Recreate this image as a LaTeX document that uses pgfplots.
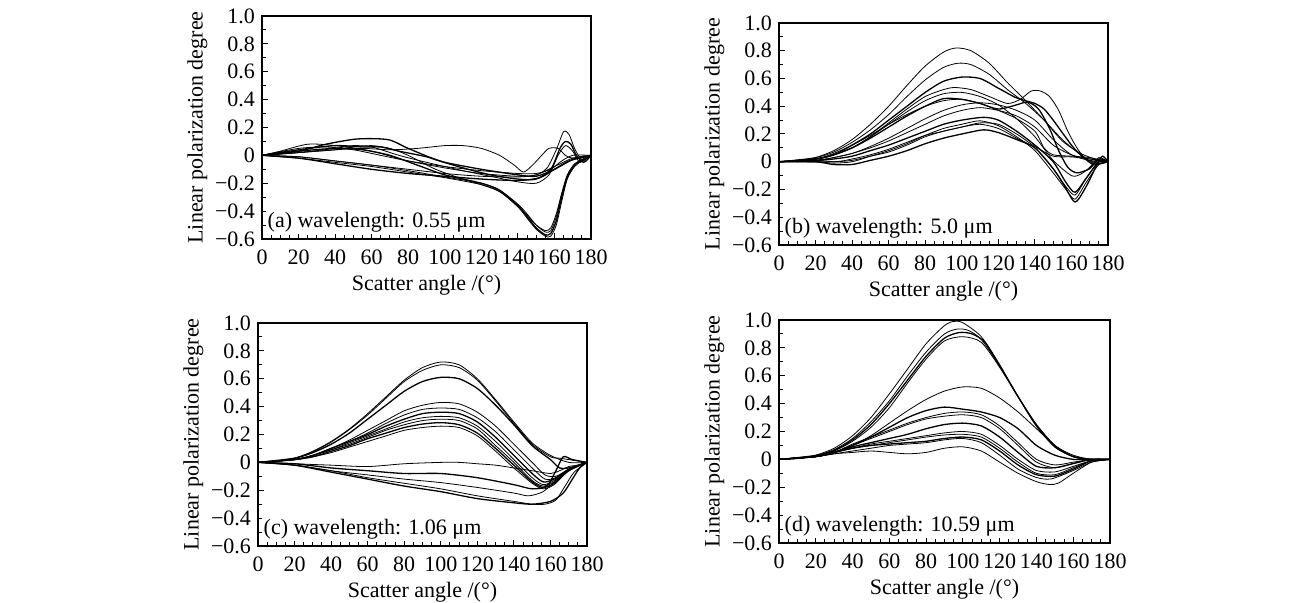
\documentclass[border=0pt]{standalone}
\usepackage{fontspec}
\setmainfont{Liberation Serif}
\usepackage{pgfplots}
\pgfplotsset{compat=1.18}
\newcommand{\fs}{\fontsize{11pt}{12.5pt}\selectfont}
\tikzset{tag/.style={font=\fs, anchor=west, fill=white, inner sep=1pt}}
\pgfplotsset{
  panel/.style={
    scale only axis, width=164.5pt, height=111.5pt,
    xmin=0, xmax=180, ymin=-0.6, ymax=1.0,
    xtick={0,20,...,180},
    ytick={-0.6,-0.4,-0.2,0,0.2,0.4,0.6,0.8,1.0},
    yticklabels={−0.6,−0.4,−0.2,0,0.2,0.4,0.6,0.8,1.0},
    minor x tick num=3, minor y tick num=1,
    tick pos=left, tick align=inside,
    major tick length=3pt, minor tick length=1.8pt,
    tick style={black, line width=0.5pt},
    axis line style={line width=0.7pt},
    /pgf/number format/assume math mode=true,
    tick label style={font=\fs},
    xticklabel style={yshift=-2pt},
    label style={font=\fs},
    xlabel={Scatter angle /(°)},
    ylabel={Linear polarization degree},
    xlabel style={yshift=1.5pt},
    ylabel style={yshift=-3pt},
    cycle list={{black, solid, line width=0.65pt}},
    every axis plot/.append style={no marks, smooth, tension=0.45},
    clip=true,
  },
}
\begin{document}
\begin{tikzpicture}
\useasboundingbox (0,0) rectangle (647pt,-301.5pt);
% ---------------- (a)
\begin{axis}[panel, at={(131pt,-8pt)}, anchor=north west]
\addplot coordinates {(0,0)(20,-0.02)(40,-0.05)(60,-0.08)(80,-0.12)(100,-0.16)(120,-0.21)(130,-0.26)(140,-0.36)(145,-0.43)(150,-0.50)(155,-0.54)(158,-0.52)(161,-0.42)(164,-0.27)(167,-0.14)(171,-0.06)(175,-0.03)(180,0)};
\addplot coordinates {(0,0)(20,-0.01)(40,-0.04)(60,-0.07)(80,-0.11)(100,-0.155)(120,-0.2)(130,-0.25)(140,-0.35)(145,-0.42)(150,-0.5)(155,-0.55)(158,-0.54)(161,-0.44)(164,-0.28)(167,-0.15)(171,-0.07)(175,-0.03)(180,0)};
\addplot coordinates {(0,0)(20,0.03)(40,0.05)(55,0.04)(70,0.0)(85,-0.07)(100,-0.14)(120,-0.2)(130,-0.25)(140,-0.36)(145,-0.44)(150,-0.52)(155,-0.57)(158,-0.56)(161,-0.47)(164,-0.3)(167,-0.16)(171,-0.07)(175,-0.04)(180,0)};
\addplot coordinates {(0,0)(20,0.02)(40,0.04)(50,0.06)(60,0.07)(70,0.05)(80,0.0)(95,-0.1)(110,-0.17)(120,-0.21)(130,-0.26)(140,-0.37)(145,-0.45)(150,-0.53)(155,-0.58)(158,-0.58)(161,-0.5)(164,-0.33)(167,-0.17)(171,-0.08)(175,-0.04)(180,0)};
\addplot coordinates {(0,0)(10,0.03)(25,0.08)(40,0.07)(60,0.03)(80,-0.04)(100,-0.09)(120,-0.13)(140,-0.15)(150,-0.14)(156,-0.09)(161,0.04)(165,0.17)(168,0.15)(171,0.05)(175,-0.03)(180,0)};
\addplot coordinates {(0,0)(20,0.03)(35,0.08)(50,0.115)(60,0.12)(70,0.11)(80,0.05)(95,-0.03)(110,-0.09)(125,-0.14)(140,-0.17)(150,-0.17)(158,-0.1)(163,0.05)(166,0.1)(169,0.08)(172,0.0)(176,-0.05)(180,0)};
\addplot coordinates {(0,0)(20,0.02)(40,0.05)(50,0.07)(60,0.06)(75,0.0)(90,-0.05)(110,-0.11)(125,-0.15)(140,-0.19)(150,-0.2)(157,-0.14)(162,0.0)(166,0.07)(170,0.03)(174,-0.05)(180,0)};
\addplot coordinates {(0,0)(20,-0.01)(40,-0.04)(60,-0.07)(80,-0.1)(100,-0.13)(120,-0.15)(140,-0.155)(150,-0.14)(160,-0.08)(170,-0.02)(180,0)};
\addplot coordinates {(0,0)(20,-0.02)(40,-0.06)(60,-0.1)(80,-0.13)(100,-0.15)(120,-0.17)(140,-0.18)(152,-0.16)(160,-0.1)(168,-0.04)(180,0)};
\addplot coordinates {(0,0)(20,0.02)(40,0.04)(55,0.05)(70,0.04)(85,0.05)(100,0.07)(110,0.07)(120,0.05)(130,0.0)(138,-0.07)(143,-0.12)(148,-0.07)(153,0.0)(157,0.05)(162,0.05)(166,0.0)(170,-0.02)(180,0)};
\addplot coordinates {(0,0)(20,0.05)(35,0.06)(50,0.04)(65,0.0)(80,-0.04)(100,-0.08)(120,-0.11)(140,-0.13)(150,-0.13)(158,-0.1)(164,-0.04)(170,0.0)(180,0)};
\addplot coordinates {(0,0)(20,0.04)(40,0.07)(55,0.06)(65,0.06)(75,0.03)(90,-0.01)(100,-0.05)(120,-0.1)(140,-0.14)(150,-0.15)(160,-0.1)(170,-0.03)(180,0)};
\node[tag] at (rel axis cs:0.01,0.075) {(a) wavelength: 0.55 μm};
\end{axis}
% ---------------- (b)
\begin{axis}[panel, at={(389.5pt,-11.5pt)}, anchor=north west, width=164.5pt, height=111pt, ylabel style={yshift=0pt}]
\addplot coordinates {(0,0)(10,0.005)(20,0.03)(30,0.08)(40,0.16)(50,0.27)(60,0.40)(70,0.55)(80,0.69)(90,0.79)(97,0.82)(105,0.80)(115,0.71)(125,0.57)(135,0.44)(145,0.30)(155,0.15)(165,0.06)(175,0.01)(180,0)};
\addplot coordinates {(0,0)(20,0.03)(30,0.07)(40,0.14)(50,0.23)(60,0.34)(70,0.47)(80,0.59)(90,0.68)(98,0.71)(105,0.70)(115,0.63)(125,0.52)(135,0.42)(145,0.30)(155,0.16)(165,0.05)(172,-0.01)(180,0)};
\addplot coordinates {(0,0)(20,0.02)(30,0.05)(40,0.12)(50,0.2)(60,0.3)(70,0.4)(80,0.5)(90,0.58)(100,0.61)(110,0.6)(120,0.53)(130,0.46)(140,0.42)(145,0.38)(150,0.3)(160,0.12)(165,0.05)(172,-0.02)(180,0)};
\addplot coordinates {(0,0)(20,0.02)(30,0.05)(40,0.1)(50,0.18)(60,0.28)(70,0.38)(80,0.47)(90,0.52)(96,0.535)(105,0.52)(115,0.47)(125,0.42)(132,0.45)(138,0.51)(143,0.51)(148,0.47)(153,0.37)(158,0.22)(163,0.1)(168,0.02)(175,-0.01)(180,0)};
\addplot coordinates {(0,0)(20,0.02)(30,0.05)(40,0.1)(50,0.18)(60,0.27)(70,0.36)(80,0.44)(90,0.49)(100,0.5)(110,0.47)(120,0.41)(130,0.31)(140,0.18)(150,0.01)(160,-0.1)(165,-0.09)(170,-0.04)(175,0.03)(180,0)};
\addplot coordinates {(0,0)(20,0.02)(30,0.05)(40,0.1)(50,0.17)(60,0.25)(70,0.33)(80,0.4)(90,0.455)(100,0.45)(110,0.42)(120,0.38)(130,0.41)(136,0.43)(142,0.38)(148,0.24)(153,0.08)(158,-0.04)(163,-0.08)(170,-0.05)(175,0.02)(180,0)};
\addplot coordinates {(0,0)(20,0.01)(30,0.03)(40,0.06)(50,0.11)(60,0.17)(70,0.24)(80,0.31)(90,0.37)(100,0.41)(110,0.425)(120,0.41)(130,0.37)(140,0.3)(150,0.16)(160,0.05)(170,0.01)(180,0)};
\addplot coordinates {(0,0)(20,0.01)(30,0.03)(40,0.06)(50,0.1)(60,0.15)(70,0.21)(80,0.27)(90,0.33)(100,0.37)(110,0.39)(120,0.37)(130,0.33)(140,0.25)(150,0.12)(160,0.05)(170,0.02)(180,0)};
\addplot coordinates {(0,0)(20,0.01)(30,0.02)(40,0.04)(50,0.08)(60,0.12)(70,0.17)(80,0.22)(90,0.27)(100,0.3)(112,0.32)(120,0.3)(130,0.22)(140,0.12)(150,0.0)(157,-0.15)(162,-0.22)(168,-0.12)(175,0.0)(180,0)};
\addplot coordinates {(0,0)(20,0.0)(30,-0.01)(40,0.0)(50,0.04)(60,0.08)(70,0.13)(80,0.19)(90,0.24)(100,0.27)(110,0.295)(120,0.26)(130,0.18)(140,0.08)(150,-0.08)(157,-0.2)(162,-0.27)(168,-0.15)(175,-0.02)(180,0)};
\addplot coordinates {(0,0)(20,0.01)(30,0.0)(40,0.01)(50,0.04)(60,0.07)(70,0.12)(80,0.18)(90,0.22)(100,0.25)(110,0.27)(120,0.24)(130,0.17)(140,0.1)(150,-0.05)(157,-0.18)(162,-0.24)(168,-0.12)(175,0.0)(180,0)};
\addplot coordinates {(0,0)(20,0.0)(30,-0.02)(40,-0.02)(50,0.01)(60,0.04)(70,0.08)(80,0.13)(90,0.17)(100,0.2)(112,0.23)(120,0.21)(130,0.16)(140,0.1)(150,-0.05)(156,-0.17)(162,-0.29)(168,-0.18)(174,-0.02)(177,0.04)(180,0)};
\addplot coordinates {(0,0)(30,0.0)(40,0.02)(50,0.05)(60,0.09)(70,0.14)(80,0.19)(90,0.22)(100,0.25)(110,0.28)(120,0.27)(130,0.2)(140,0.11)(150,0.04)(160,0.035)(170,0.02)(180,0)};
\addplot coordinates {(0,0)(20,0.02)(30,0.06)(40,0.12)(50,0.19)(60,0.27)(70,0.34)(80,0.4)(90,0.44)(100,0.45)(110,0.42)(120,0.37)(130,0.31)(140,0.22)(145,0.1)(150,0.05)(160,0.04)(170,0.03)(180,0)};
\node[tag] at (rel axis cs:0.01,0.075) {(b) wavelength: 5.0 μm};
\end{axis}
% ---------------- (c)
\begin{axis}[panel, at={(129pt,-161.5pt)}, anchor=north west]
\addplot coordinates {(0,0)(10,0.01)(20,0.03)(30,0.08)(40,0.15)(50,0.24)(60,0.35)(70,0.47)(80,0.59)(90,0.68)(100,0.72)(110,0.70)(120,0.60)(130,0.45)(140,0.29)(150,0.14)(160,0.05)(170,0.0)(180,0)};
\addplot coordinates {(0,0)(10,0.01)(20,0.03)(30,0.075)(40,0.145)(50,0.235)(60,0.34)(70,0.46)(80,0.58)(90,0.66)(100,0.70)(110,0.68)(120,0.59)(130,0.44)(140,0.28)(150,0.13)(160,0.04)(165,0.03)(170,0.02)(180,0)};
\addplot coordinates {(0,0)(20,0.03)(30,0.07)(40,0.13)(50,0.21)(60,0.31)(70,0.41)(80,0.51)(90,0.58)(100,0.61)(110,0.6)(120,0.53)(130,0.41)(140,0.27)(150,0.12)(160,0.02)(165,-0.04)(170,-0.04)(180,0)};
\addplot coordinates {(0,0)(20,0.02)(30,0.05)(40,0.1)(50,0.16)(60,0.23)(70,0.3)(80,0.37)(90,0.41)(100,0.43)(110,0.42)(120,0.36)(130,0.26)(140,0.13)(150,0.0)(157,-0.09)(163,-0.1)(170,-0.05)(180,0)};
\addplot coordinates {(0,0)(20,0.02)(30,0.05)(40,0.1)(50,0.15)(60,0.21)(70,0.28)(80,0.34)(90,0.38)(100,0.39)(110,0.38)(120,0.32)(130,0.22)(140,0.09)(150,-0.04)(157,-0.12)(163,-0.11)(170,-0.05)(180,0)};
\addplot coordinates {(0,0)(20,0.02)(30,0.05)(40,0.1)(50,0.15)(60,0.2)(70,0.26)(80,0.31)(90,0.35)(100,0.36)(110,0.35)(120,0.29)(130,0.18)(140,0.05)(150,-0.08)(156,-0.14)(162,-0.12)(170,-0.05)(180,0)};
\addplot coordinates {(0,0)(20,0.02)(30,0.05)(40,0.09)(50,0.14)(60,0.19)(70,0.24)(80,0.29)(90,0.32)(100,0.33)(110,0.32)(120,0.26)(130,0.15)(140,0.02)(150,-0.11)(156,-0.16)(162,-0.13)(170,-0.05)(180,0)};
\addplot coordinates {(0,0)(20,0.02)(30,0.05)(40,0.09)(50,0.13)(60,0.18)(70,0.23)(80,0.27)(90,0.3)(100,0.31)(110,0.3)(120,0.24)(130,0.12)(140,0.0)(150,-0.13)(156,-0.17)(162,-0.14)(170,-0.06)(180,0)};
\addplot coordinates {(0,0)(20,0.02)(30,0.04)(40,0.08)(50,0.12)(60,0.17)(70,0.21)(80,0.25)(90,0.275)(100,0.285)(110,0.27)(120,0.21)(130,0.1)(140,-0.02)(150,-0.14)(156,-0.18)(162,-0.15)(170,-0.06)(180,0)};
\addplot coordinates {(0,0)(20,0.02)(30,0.04)(40,0.07)(50,0.11)(60,0.15)(70,0.19)(80,0.23)(90,0.25)(100,0.26)(110,0.25)(120,0.19)(130,0.08)(140,-0.04)(150,-0.15)(156,-0.19)(162,-0.16)(170,-0.06)(180,0)};
\addplot coordinates {(0,0)(20,-0.01)(40,-0.02)(60,-0.03)(80,-0.01)(100,0.0)(110,0.0)(120,-0.01)(130,-0.02)(140,-0.04)(150,-0.06)(160,-0.08)(165,-0.06)(170,-0.03)(175,-0.02)(180,0)};
\addplot coordinates {(0,0)(20,-0.01)(40,-0.04)(60,-0.06)(80,-0.08)(100,-0.08)(120,-0.11)(140,-0.16)(150,-0.19)(158,-0.17)(163,-0.06)(167,0.04)(172,0.02)(180,0)};
\addplot coordinates {(0,0)(20,-0.02)(40,-0.06)(60,-0.09)(80,-0.12)(100,-0.145)(120,-0.18)(140,-0.22)(148,-0.24)(156,-0.21)(163,-0.13)(170,-0.05)(180,0)};
\addplot coordinates {(0,0)(20,-0.02)(40,-0.06)(60,-0.11)(80,-0.15)(100,-0.19)(120,-0.24)(140,-0.28)(150,-0.3)(157,-0.3)(163,-0.27)(168,-0.17)(173,-0.07)(180,0)};
\addplot coordinates {(0,0)(20,-0.02)(40,-0.07)(60,-0.12)(80,-0.17)(100,-0.21)(120,-0.26)(140,-0.29)(150,-0.3)(160,-0.28)(167,-0.22)(172,-0.12)(176,-0.04)(180,0)};
\node[tag] at (rel axis cs:0.01,0.075) {(c) wavelength: 1.06 μm};
\end{axis}
% ---------------- (d)
\begin{axis}[panel, at={(389.5pt,-160pt)}, anchor=north west, width=165.5pt]
\addplot coordinates {(0,0)(10,0.005)(20,0.03)(30,0.08)(40,0.17)(50,0.3)(60,0.47)(70,0.65)(80,0.83)(90,0.96)(95,0.99)(100,0.98)(110,0.88)(120,0.68)(130,0.45)(140,0.24)(150,0.09)(160,0.02)(170,0.0)(180,0)};
\addplot coordinates {(0,0)(20,0.03)(30,0.07)(40,0.15)(50,0.27)(60,0.42)(70,0.6)(80,0.77)(90,0.9)(97,0.935)(103,0.925)(110,0.86)(120,0.67)(130,0.45)(140,0.25)(150,0.1)(160,0.02)(170,-0.01)(180,0)};
\addplot coordinates {(0,0)(20,0.025)(30,0.065)(40,0.14)(50,0.25)(60,0.4)(70,0.57)(80,0.74)(90,0.87)(98,0.91)(105,0.9)(112,0.84)(120,0.67)(130,0.45)(140,0.24)(150,0.09)(160,0.02)(170,0.0)(180,0)};
\addplot coordinates {(0,0)(20,0.02)(30,0.06)(40,0.13)(50,0.23)(60,0.37)(70,0.55)(80,0.72)(90,0.85)(100,0.88)(110,0.84)(120,0.66)(130,0.45)(140,0.25)(150,0.1)(160,0.03)(170,0.0)(180,0)};
\addplot coordinates {(0,0)(20,0.02)(30,0.05)(40,0.1)(50,0.17)(60,0.26)(70,0.35)(80,0.43)(90,0.49)(100,0.52)(110,0.51)(120,0.44)(130,0.34)(140,0.22)(150,0.1)(160,0.02)(170,0.0)(180,0)};
\addplot coordinates {(0,0)(20,0.02)(30,0.05)(40,0.1)(50,0.16)(60,0.23)(70,0.3)(80,0.35)(90,0.375)(100,0.36)(110,0.34)(120,0.3)(130,0.22)(140,0.1)(150,0.03)(160,0.0)(170,0.0)(180,0)};
\addplot coordinates {(0,0)(20,0.02)(30,0.05)(40,0.11)(50,0.16)(60,0.21)(70,0.26)(80,0.3)(90,0.33)(100,0.34)(110,0.32)(120,0.24)(130,0.12)(140,0.0)(150,-0.04)(160,-0.02)(170,0.0)(180,0)};
\addplot coordinates {(0,0)(20,0.02)(30,0.05)(40,0.1)(50,0.15)(60,0.2)(70,0.25)(80,0.29)(90,0.31)(100,0.32)(110,0.3)(120,0.22)(130,0.1)(140,-0.02)(150,-0.06)(160,-0.03)(170,0.0)(180,0)};
\addplot coordinates {(0,0)(20,0.02)(30,0.05)(40,0.09)(50,0.12)(60,0.15)(70,0.18)(80,0.22)(90,0.25)(100,0.26)(110,0.24)(120,0.16)(130,0.05)(140,-0.05)(150,-0.06)(160,-0.03)(170,0.0)(180,0)};
\addplot coordinates {(0,0)(20,0.02)(30,0.05)(40,0.08)(50,0.11)(60,0.13)(70,0.15)(80,0.17)(90,0.19)(100,0.2)(110,0.18)(120,0.1)(130,0.0)(140,-0.08)(150,-0.09)(160,-0.05)(170,-0.01)(180,0)};
\addplot coordinates {(0,0)(20,0.02)(30,0.05)(40,0.08)(50,0.1)(60,0.12)(70,0.14)(80,0.16)(90,0.175)(100,0.18)(110,0.16)(120,0.08)(130,-0.02)(140,-0.1)(150,-0.11)(160,-0.06)(170,-0.01)(180,0)};
\addplot coordinates {(0,0)(20,0.02)(30,0.05)(40,0.08)(50,0.1)(60,0.11)(70,0.12)(80,0.13)(90,0.15)(100,0.16)(110,0.14)(120,0.06)(130,-0.04)(140,-0.11)(150,-0.12)(160,-0.07)(170,-0.01)(180,0)};
\addplot coordinates {(0,0)(20,0.02)(30,0.04)(40,0.06)(50,0.08)(60,0.1)(70,0.11)(80,0.12)(90,0.14)(100,0.15)(110,0.12)(120,0.03)(130,-0.07)(140,-0.13)(148,-0.14)(160,-0.08)(170,-0.02)(180,0)};
\addplot coordinates {(0,0)(20,0.02)(30,0.04)(40,0.05)(50,0.06)(60,0.05)(70,0.04)(80,0.05)(90,0.08)(100,0.09)(110,0.06)(120,-0.02)(130,-0.1)(140,-0.16)(147,-0.18)(152,-0.17)(160,-0.1)(170,-0.02)(180,0)};
\node[tag] at (rel axis cs:0.01,0.075) {(d) wavelength: 10.59 μm};
\end{axis}
\end{tikzpicture}
\end{document}
